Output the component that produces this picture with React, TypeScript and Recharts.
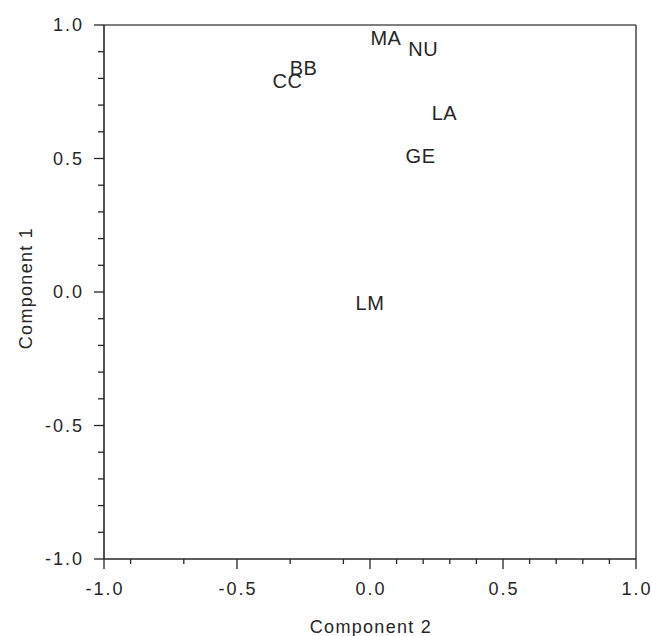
import { ScatterChart, Scatter, XAxis, YAxis, ReferenceLine } from 'recharts'

// sample codes and their loadings (x = component 2, y = component 1)
const names = ['MA', 'NU', 'BB', 'CC', 'LA', 'GE', 'LM']
const comp2 = [0.06, 0.2, -0.25, -0.31, 0.28, 0.19, 0.0]
const comp1 = [0.95, 0.91, 0.84, 0.79, 0.67, 0.51, -0.04]

const axisTicks = [-1, -0.9, -0.8, -0.7, -0.6, -0.5, -0.4, -0.3, -0.2, -0.1, 0, 0.1, 0.2, 0.3, 0.4, 0.5, 0.6, 0.7, 0.8, 0.9, 1]
const majorTicks = [-1, -0.5, 0, 0.5, 1]

const data = names.map((name, i) => ({ name, x: comp2[i], y: comp1[i] }))

const FONT = '"Liberation Sans", Arial, sans-serif'
const INK = '#262626'

const isMajor = (v: number) => majorTicks.some(m => Math.abs(m - v) < 1e-6)

function YTick({ x, y, payload }: any) {
  const major = isMajor(payload.value)
  return (
    <g>
      <line x1={x - (major ? 10 : 6)} x2={x} y1={y} y2={y} stroke={INK} strokeWidth={1.3} />
      {major && (
        <text x={x - 20} y={y} textAnchor="end" dominantBaseline="central" fontSize={18} letterSpacing={2} fill={INK} fontFamily={FONT}>
          {payload.value.toFixed(1)}
        </text>
      )}
    </g>
  )
}

function XTick({ x, y, payload }: any) {
  const major = isMajor(payload.value)
  return (
    <g>
      <line x1={x} x2={x} y1={y} y2={y + (major ? 10 : 5)} stroke={INK} strokeWidth={1.3} />
      {major && (
        <text x={x + 1} y={y + 30} textAnchor="middle" dominantBaseline="central" fontSize={18} letterSpacing={2} fill={INK} fontFamily={FONT}>
          {payload.value.toFixed(1)}
        </text>
      )}
    </g>
  )
}

function PointLabel({ cx, cy, payload }: any) {
  return (
    <text x={cx} y={cy} textAnchor="middle" dominantBaseline="central" fontSize={20} letterSpacing={0.5} fill={INK} fontFamily={FONT}>
      {payload.name}
    </text>
  )
}

export default function App() {
  return (
    <div style={{ position: 'absolute', left: 0, top: 0, background: '#fff' }}>
      <ScatterChart width={652} height={636} margin={{ top: 25, right: 16, bottom: 0, left: 0 }}>
        <XAxis
          type="number"
          dataKey="x"
          domain={[-1, 1]}
          ticks={axisTicks}
          allowDataOverflow
          height={77}
          tickSize={0}
          tickMargin={0}
          tick={<XTick />}
          axisLine={{ stroke: INK, strokeWidth: 1.6 }}
          label={() => (
            <text x={371} y={627} textAnchor="middle" dominantBaseline="central" fontSize={18} letterSpacing={1.3} fill={INK} fontFamily={FONT}>
              Component 2
            </text>
          )}
        />
        <YAxis
          type="number"
          dataKey="y"
          domain={[-1, 1]}
          ticks={axisTicks}
          allowDataOverflow
          width={104}
          tickSize={0}
          tickMargin={0}
          tick={<YTick />}
          axisLine={{ stroke: INK, strokeWidth: 1.6 }}
          label={() => (
            <text x={26} y={288} textAnchor="middle" dominantBaseline="central" fontSize={18} letterSpacing={1.3} fill={INK} fontFamily={FONT} transform="rotate(-90 26 288)">
              Component 1
            </text>
          )}
        />
        <ReferenceLine y={1} stroke="#555" strokeWidth={1.5} />
        <ReferenceLine x={1} stroke="#444" strokeWidth={1.5} />
        <Scatter data={data} shape={<PointLabel />} isAnimationActive={false} />
      </ScatterChart>
    </div>
  )
}
